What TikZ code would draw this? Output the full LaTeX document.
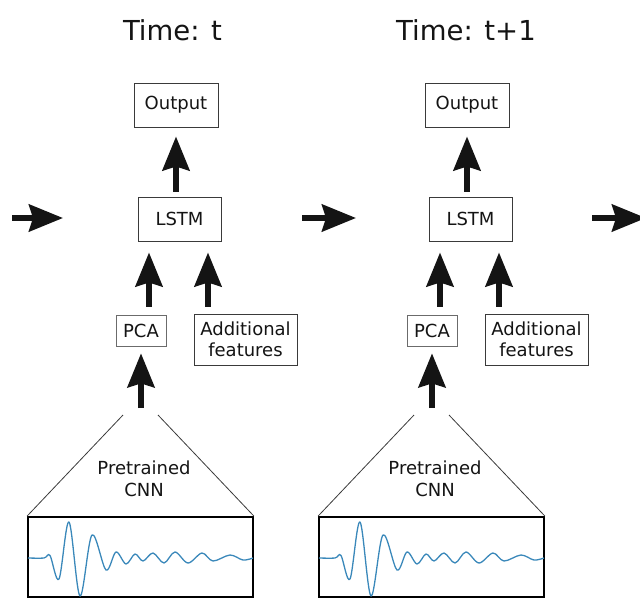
\documentclass[tikz,border=0pt]{standalone}
\usepackage{fontspec}
\setmainfont{DejaVu Sans}
\usetikzlibrary{arrows.meta}
\definecolor{ink}{HTML}{141414}
\definecolor{frame}{HTML}{3A3A3A}
\definecolor{wave}{RGB}{58,136,186}
\tikzset{
  box/.style={draw=frame, line width=1pt, inner sep=0pt, text=ink, align=center,
    font=\fontsize{18}{21}\selectfont},
  label/.style={text=ink, align=center, font=\fontsize{18}{22}\selectfont},
  title/.style={text=ink, font=\fontsize{27.5}{30}\selectfont},
  bigarrow/.style={ink, line width=5.5pt, -{Stealth[length=34pt,width=27pt,inset=4pt]}},
  sigbox/.style={draw=black, line width=1.8pt, inner sep=0pt,
    minimum width=225pt, minimum height=80pt},
  cone/.style={frame, line width=0.8pt},
}
\begin{document}
\begin{tikzpicture}[x=1pt,y=-1pt]
\useasboundingbox (0,0) rectangle (640,598);

% one time step per panel
\foreach \i/\dx/\tx/\lab in {1/0/172.5/t, 2/291/175/t+1}{
  \begin{scope}[xshift=\dx pt]
    \node[title, anchor=base] (time\i) at (\tx,40.5) {Time: \lab};
    \node[box, minimum width=84pt, minimum height=44pt] (out\i) at (176,105) {Output};
    \node[box, minimum width=83pt, minimum height=44pt] (lstm\i) at (179.5,219) {LSTM};
    \node[box, draw=frame!75, line width=0.7pt, minimum width=50pt, minimum height=31pt]
      (pca\i) at (141,330.5) {PCA};
    \node[box, minimum width=103pt, minimum height=51pt] (add\i) at (245.5,339.5)
      {Additional\\features};
    \node[sigbox] (sig\i) at (140.5,557) {};
    \node[label] (cnn\i) at (144,479) {Pretrained\\CNN};

    % feature extractor cone above the signal window
    \coordinate (apl\i) at (123,415);
    \coordinate (apr\i) at (158,415);
    \draw[cone] (apl\i) -- (sig\i.north west);
    \draw[cone] (apr\i) -- (sig\i.north east);

    % seismic trace
    \draw[wave, line width=1.3pt, line join=round] plot[smooth, tension=0.55] coordinates {
      (28,558) (44,558) (50,555.5) (59,579) (69,522) (80,596) (92,535) (106,570)
      (116,552) (126,564) (135,554) (143,561) (153,553) (164,563) (175,552)
      (188,563) (202,553) (213,561) (230,555) (243,560) (253,558)};

    % data flow
    \coordinate (xp\i) at (149,0);
    \coordinate (xa\i) at (208,0);
    \draw[bigarrow, shorten <=5pt, shorten >=9pt] (out\i.south |- lstm\i.north) -- (out\i.south);
    \draw[bigarrow, shorten <=8pt, shorten >=11pt] (xp\i |- pca\i.north) -- (xp\i |- lstm\i.south);
    \draw[bigarrow, shorten <=7pt, shorten >=11pt] (xa\i |- add\i.north) -- (xa\i |- lstm\i.south);
    \draw[bigarrow, shorten <=7pt, shorten >=7pt] (pca\i.south |- apl\i) -- (pca\i.south);
  \end{scope}
}

% recurrent state passed between time steps
\coordinate (h0s) at (12,218);
\coordinate (h0e) at (63,218);
\coordinate (h1s) at (302,218);
\coordinate (h1e) at (356,218);
\coordinate (h2s) at (592,218);
\coordinate (h2e) at (646,218);
\draw[bigarrow] (h0s) -- (h0e);
\draw[bigarrow] (h1s) -- (h1e);
\draw[bigarrow] (h2s) -- (h2e);
\end{tikzpicture}
\end{document}
